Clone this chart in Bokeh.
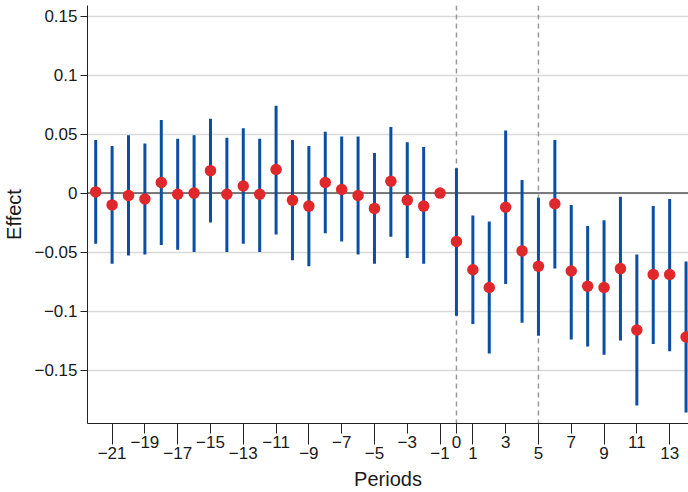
from bokeh.plotting import figure
from bokeh.models import ColumnDataSource, FixedTicker, LinearAxis, Span, Range1d
from bokeh.embed import file_html
from bokeh.resources import INLINE

# ---- data ----
periods = list(range(-22, 15))
estimates = [0.001, -0.010, -0.002, -0.005, 0.009, -0.001, 0.000, 0.019, -0.001, 0.006,
             -0.001, 0.020, -0.006, -0.011, 0.009, 0.003, -0.002, -0.013, 0.010, -0.006,
             -0.011, 0.000,
             -0.041, -0.065, -0.080, -0.012, -0.049, -0.062, -0.009, -0.066, -0.079, -0.080,
             -0.064, -0.116, -0.069, -0.069, -0.122]
ci_upper = [0.045, 0.040, 0.049, 0.042, 0.062, 0.046, 0.049, 0.063, 0.047, 0.055,
            0.046, 0.074, 0.045, 0.040, 0.052, 0.048, 0.048, 0.034, 0.056, 0.043,
            0.039, None,
            0.021, -0.019, -0.024, 0.053, 0.011, -0.004, 0.045, -0.010, -0.028, -0.023,
            -0.003, -0.052, -0.011, -0.005, -0.058]
ci_lower = [-0.043, -0.060, -0.053, -0.052, -0.044, -0.048, -0.050, -0.025, -0.050, -0.043,
            -0.050, -0.035, -0.057, -0.062, -0.034, -0.041, -0.052, -0.060, -0.037, -0.055,
            -0.060, None,
            -0.104, -0.111, -0.136, -0.077, -0.110, -0.121, -0.064, -0.124, -0.130, -0.137,
            -0.125, -0.180, -0.128, -0.134, -0.186]
x_ticks_upper = [-19, -15, -11, -7, -3, 0, 3, 7, 11]
x_ticks_lower = [-21, -17, -13, -9, -5, -1, 1, 5, 9, 13]
y_ticks = [-0.15, -0.1, -0.05, 0, 0.05, 0.1, 0.15]
event_lines = [0, 5]

FONT = "Liberation Sans"
TICK_SIZE = "17px"
LABEL_SIZE = "20px"
AXIS_COLOR = "#222222"
TEXT_COLOR = "#1a1a1a"


def fmt(v):
    return ("%g" % v).replace("-", "\u2212")


ci_idx = [i for i, u in enumerate(ci_upper) if u is not None]
ci_src = ColumnDataSource(dict(
    x=[periods[i] for i in ci_idx],
    lo=[ci_lower[i] for i in ci_idx],
    hi=[ci_upper[i] for i in ci_idx],
))
pt_src = ColumnDataSource(dict(x=periods, y=estimates))

p = figure(width=688, height=492, output_backend="svg", toolbar_location=None,
           x_range=Range1d(-22.5, 14.15), y_range=Range1d(-0.1953, 0.159),
           x_axis_location=None, y_axis_location=None,
           min_border_left=87, min_border_right=0, min_border_top=5, min_border_bottom=69)
p.outline_line_color = None
p.background_fill_color = "white"
p.border_fill_color = "white"

# y axis
yax = LinearAxis(ticker=FixedTicker(ticks=y_ticks),
                 major_label_overrides={t: fmt(t) for t in y_ticks},
                 axis_label="Effect")
yax.major_tick_out = 7
yax.major_tick_in = 0
yax.minor_tick_out = 0
yax.minor_tick_in = 0
yax.major_label_standoff = 3
yax.axis_line_color = AXIS_COLOR
yax.major_tick_line_color = AXIS_COLOR
yax.major_label_text_font = FONT
yax.major_label_text_font_size = TICK_SIZE
yax.major_label_text_color = TEXT_COLOR
yax.axis_label_text_font = FONT
yax.axis_label_text_font_size = LABEL_SIZE
yax.axis_label_text_font_style = "normal"
yax.axis_label_text_color = TEXT_COLOR
yax.axis_label_standoff = 6
p.add_layout(yax, "left")

# x axis: upper row labels with short ticks, long minor ticks at lower-row positions
all_x = sorted(x_ticks_upper + x_ticks_lower)
overrides_a = {t: (fmt(t) if t in x_ticks_upper else "") for t in all_x}
xa = LinearAxis(ticker=FixedTicker(ticks=all_x, minor_ticks=x_ticks_lower),
                major_label_overrides=overrides_a)
xa.major_tick_out = 10
xa.major_tick_in = 0
xa.minor_tick_out = 21
xa.minor_tick_in = 0
xa.major_label_standoff = -9
xa.axis_line_color = AXIS_COLOR
xa.major_tick_line_color = AXIS_COLOR
xa.minor_tick_line_color = AXIS_COLOR
xa.major_label_text_font = FONT
xa.major_label_text_font_size = TICK_SIZE
xa.major_label_text_color = TEXT_COLOR
p.add_layout(xa, "below")

xb = LinearAxis(ticker=FixedTicker(ticks=x_ticks_lower, minor_ticks=[]),
                major_label_overrides={t: fmt(t) for t in x_ticks_lower},
                axis_label="Periods")
xb.major_tick_out = 0
xb.major_tick_in = 0
xb.minor_tick_out = 0
xb.minor_tick_in = 0
xb.major_label_standoff = -4
xb.axis_line_color = None
xb.major_tick_line_color = None
xb.major_label_text_font = FONT
xb.major_label_text_font_size = TICK_SIZE
xb.major_label_text_color = TEXT_COLOR
xb.axis_label_text_font = FONT
xb.axis_label_text_font_size = LABEL_SIZE
xb.axis_label_text_font_style = "normal"
xb.axis_label_text_color = TEXT_COLOR
xb.axis_label_standoff = 6
p.add_layout(xb, "below")

# grid
p.ygrid.ticker = FixedTicker(ticks=y_ticks)
p.ygrid.grid_line_color = "#d9d9d9"
p.ygrid.grid_line_width = 1.5
p.xgrid.visible = False

for loc in event_lines:
    p.add_layout(Span(location=loc, dimension="height", line_color="#999999",
                      line_width=1.5, line_dash="5 4", level="underlay"))
p.add_layout(Span(location=0, dimension="width", line_color="#555555", line_width=1.5,
                  level="underlay"))

p.segment(x0="x", y0="lo", x1="x", y1="hi", source=ci_src,
          line_color="#0b4ea2", line_width=3)
p.scatter(x="x", y="y", source=pt_src, size=11.5, fill_color="#e0282c",
          line_color="#e0282c", line_width=0)

open("out.html", "w").write(file_html(p, INLINE))
